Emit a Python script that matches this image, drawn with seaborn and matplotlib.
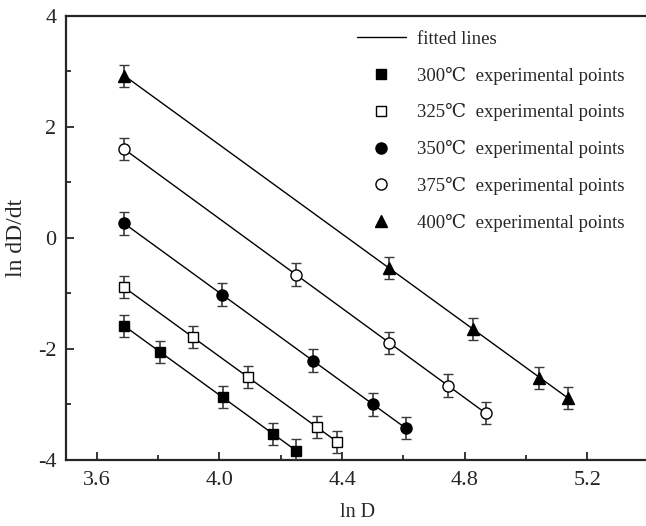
"""
ln dD/dt vs ln D at five temperatures, with fitted lines.
"""

import matplotlib.pyplot as plt
import seaborn as sns
import numpy as np
import pandas as pd
from matplotlib.lines import Line2D
from matplotlib.ticker import MultipleLocator


TEMPS = ["300", "325", "350", "375", "400"]

LN_D_300 = [3.689, 3.806, 4.010, 4.176, 4.249]
LN_RATE_300 = [-1.58, -2.06, -2.87, -3.53, -3.83]

LN_D_325 = [3.689, 3.913, 4.094, 4.318, 4.383]
LN_RATE_325 = [-0.89, -1.79, -2.51, -3.41, -3.67]

LN_D_350 = [3.689, 4.008, 4.305, 4.500, 4.607]
LN_RATE_350 = [0.26, -1.02, -2.21, -3.00, -3.42]

LN_D_375 = [3.689, 4.250, 4.554, 4.745, 4.869]
LN_RATE_375 = [1.60, -0.66, -1.90, -2.66, -3.15]

LN_D_400 = [3.689, 4.554, 4.828, 5.044, 5.138]
LN_RATE_400 = [2.92, -0.54, -1.64, -2.52, -2.89]

ERR = 0.2

# marker, face colour, size
STYLES = {
    "300": ("s", "black", 7),
    "325": ("s", "white", 7),
    "350": ("o", "black", 8),
    "375": ("o", "white", 8),
    "400": ("^", "black", 9),
}

series = {
    "300": (LN_D_300, LN_RATE_300),
    "325": (LN_D_325, LN_RATE_325),
    "350": (LN_D_350, LN_RATE_350),
    "375": (LN_D_375, LN_RATE_375),
    "400": (LN_D_400, LN_RATE_400),
}

sns.set_style("ticks")
plt.rcParams["font.family"] = ["Liberation Serif", "DejaVu Serif", "Noto Sans CJK SC"]

fig = plt.figure(figsize=(6.46, 5.26), dpi=100)
ax = fig.add_axes([0.1025, 0.1255, 0.9015, 0.8445])

for t in TEMPS:
    x, y = series[t]
    df = pd.DataFrame({"lnD": x, "rate": y})
    sns.regplot(data=df, x="lnD", y="rate", scatter=False, ci=None,
                truncate=True, color="black", line_kws={"lw": 1.0}, ax=ax)
    m, fc, ms = STYLES[t]
    ax.errorbar(x, y, yerr=ERR, fmt=m, mfc=fc, mec="black", mew=1.0, ms=ms,
                ecolor="#3a3a3a", elinewidth=1.2, capsize=3.5, capthick=1.2,
                zorder=3)

ax.set_xlim(3.5, 5.4)
ax.set_ylim(-4, 4)
ax.xaxis.set_major_locator(MultipleLocator(0.4))
ax.xaxis.set_minor_locator(MultipleLocator(0.2))
ax.yaxis.set_major_locator(MultipleLocator(2))
ax.yaxis.set_minor_locator(MultipleLocator(1))
ax.xaxis.set_major_formatter(plt.FuncFormatter(lambda v, p: f"{v:.1f}"))
ax.yaxis.set_major_formatter(plt.FuncFormatter(lambda v, p: f"{v:.0f}"))
ax.tick_params(which="both", direction="in", top=False, right=False, width=1.3)
ax.tick_params(which="major", length=6, labelsize=16)
ax.tick_params(axis="x", which="major", pad=8)
ax.tick_params(axis="y", which="major", pad=7)
ax.tick_params(which="minor", length=3.5)
for s in ax.spines.values():
    s.set_linewidth(1.6)

ax.set_xlabel("ln D", fontsize=14.5, labelpad=9)
ax.set_ylabel("ln dD/dt", fontsize=17, labelpad=8)

handles = [Line2D([], [], color="black", lw=1.0)]
labels = ["fitted lines"]
for t in TEMPS:
    m, fc, ms = STYLES[t]
    handles.append(Line2D([], [], ls="none", marker=m, mfc=fc, mec="black",
                          mew=1.0, ms=ms))
    labels.append(f"{t}\u2103  experimental points")

ax.legend(handles, labels, loc="upper left", bbox_to_anchor=(0.538, 0.9595),
          bbox_transform=fig.transFigure, frameon=False, fontsize=13.5,
          handlelength=2.6, handletextpad=0.6, labelspacing=1.0, borderpad=0)

plt.savefig("out.png", dpi=100)
